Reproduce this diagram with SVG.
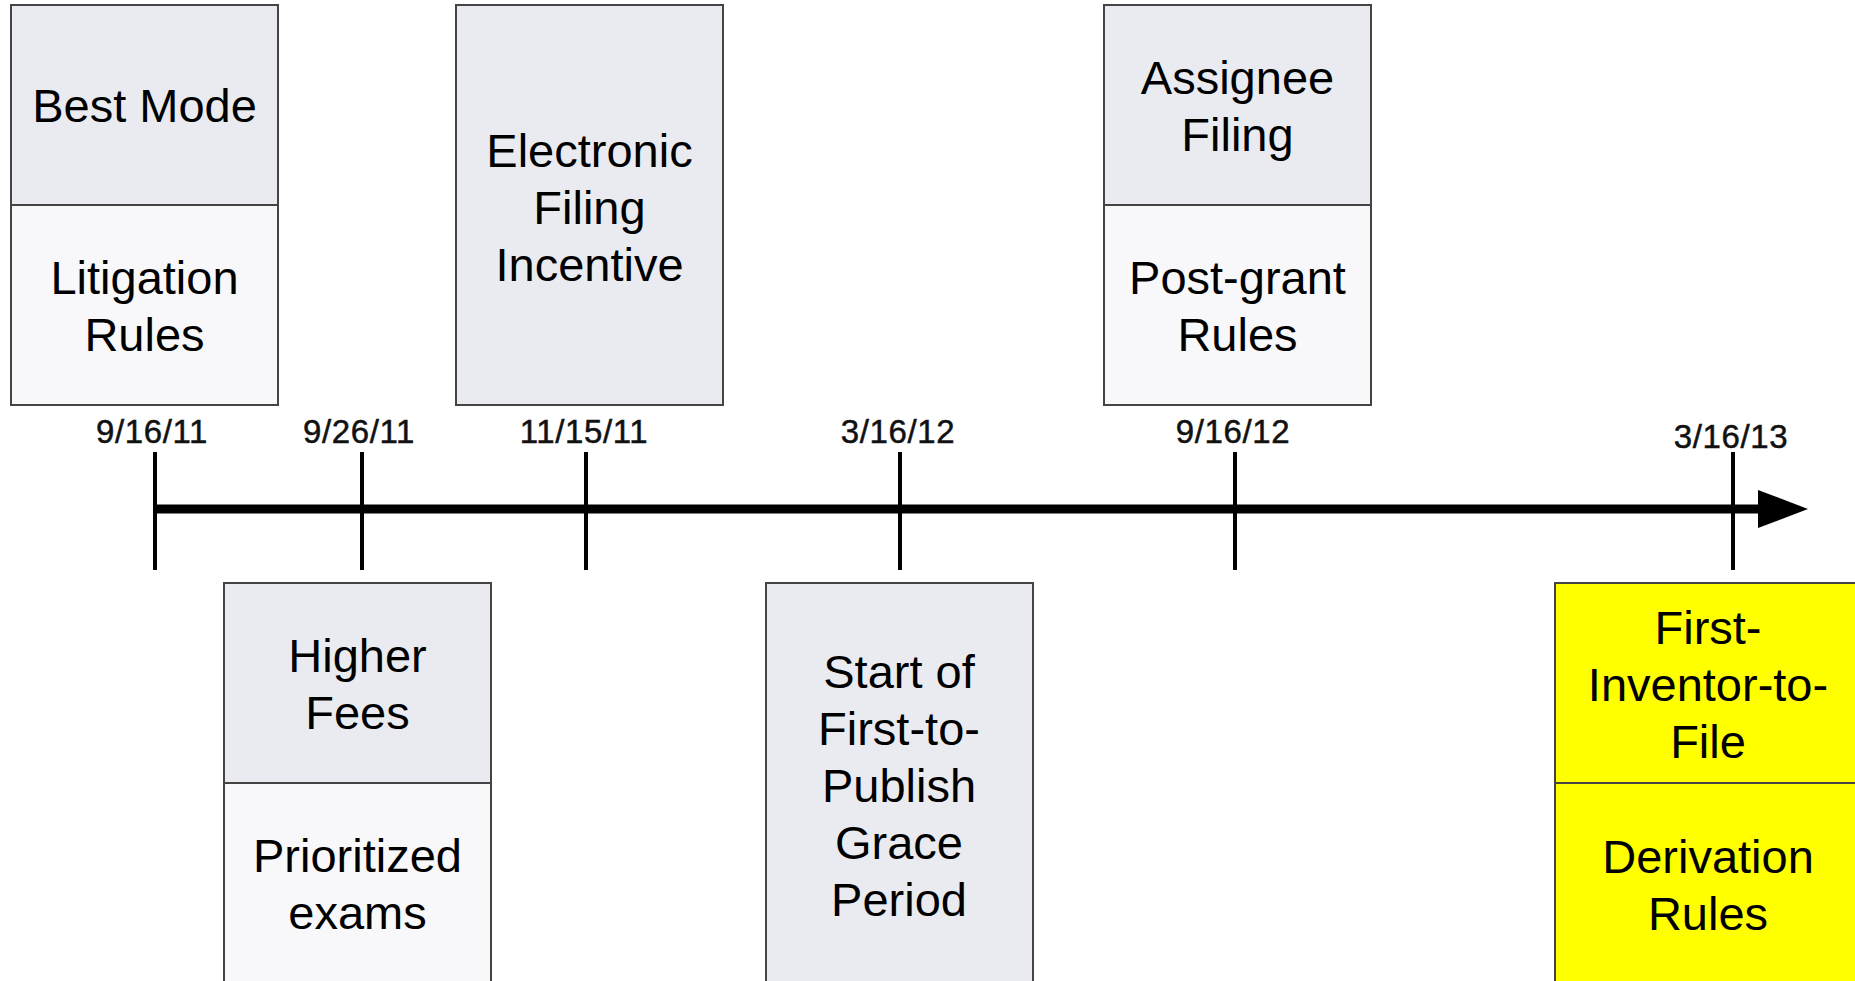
<svg xmlns="http://www.w3.org/2000/svg" width="1855" height="981" viewBox="0 0 1855 981">
<style>
.top{fill:#eaebf0;stroke:#444;stroke-width:2}
.bot{fill:#f8f8fa;stroke:#444;stroke-width:2}
.yel{fill:#ffff00;stroke:#444;stroke-width:2}
.t{font-family:"Liberation Sans",Arial,sans-serif;font-size:47px;fill:#000;text-anchor:middle}
.d{font-family:"Liberation Sans",Arial,sans-serif;font-size:33px;fill:#111;stroke:#111;stroke-width:0.5;text-anchor:middle;letter-spacing:0.6px}
.tick{stroke:#000;stroke-width:4}
</style>
<rect width="1855" height="981" fill="#fff"/>
<g id="connectors">
<line x1="155" y1="509" x2="1762" y2="509" stroke="#000" stroke-width="9"/>
<polygon points="1758,490 1808,509 1758,528" fill="#000"/>
<line class="tick" x1="155" y1="452" x2="155" y2="570"/>
<line class="tick" x1="362" y1="452" x2="362" y2="570"/>
<line class="tick" x1="586" y1="452" x2="586" y2="570"/>
<line class="tick" x1="900" y1="452" x2="900" y2="570"/>
<line class="tick" x1="1235" y1="452" x2="1235" y2="570"/>
<line class="tick" x1="1733" y1="452" x2="1733" y2="570"/>
</g>
<g id="dates">
<text class="d" x="152" y="443">9/16/11</text>
<text class="d" x="359" y="443">9/26/11</text>
<text class="d" x="584" y="443">11/15/11</text>
<text class="d" x="898" y="443">3/16/12</text>
<text class="d" x="1233" y="443">9/16/12</text>
<text class="d" x="1731" y="448">3/16/13</text>
</g>
<g id="node-best-mode">
<rect class="top" x="11" y="5" width="267" height="200"/>
<rect class="bot" x="11" y="205" width="267" height="200"/>
<text class="t" x="144.5" y="122">Best Mode</text>
<text class="t" x="144.5" y="294">Litigation</text>
<text class="t" x="144.5" y="351">Rules</text>
</g>
<g id="node-higher-fees">
<rect class="top" x="224" y="583" width="267" height="200"/>
<rect class="bot" x="224" y="783" width="267" height="210"/>
<text class="t" x="357.5" y="672">Higher</text>
<text class="t" x="357.5" y="729">Fees</text>
<text class="t" x="357.5" y="872">Prioritized</text>
<text class="t" x="357.5" y="929">exams</text>
</g>
<g id="node-electronic">
<rect class="top" x="456" y="5" width="267" height="400"/>
<text class="t" x="589.5" y="167">Electronic</text>
<text class="t" x="589.5" y="224">Filing</text>
<text class="t" x="589.5" y="281">Incentive</text>
</g>
<g id="node-first-to-publish">
<rect class="top" x="766" y="583" width="267" height="410"/>
<text class="t" x="899" y="688">Start of</text>
<text class="t" x="899" y="745">First-to-</text>
<text class="t" x="899" y="802">Publish</text>
<text class="t" x="899" y="859">Grace</text>
<text class="t" x="899" y="916">Period</text>
</g>
<g id="node-assignee">
<rect class="top" x="1104" y="5" width="267" height="200"/>
<rect class="bot" x="1104" y="205" width="267" height="200"/>
<text class="t" x="1237.5" y="94">Assignee</text>
<text class="t" x="1237.5" y="151">Filing</text>
<text class="t" x="1237.5" y="294">Post-grant</text>
<text class="t" x="1237.5" y="351">Rules</text>
</g>
<g id="node-first-inventor">
<rect class="yel" x="1555" y="583" width="320" height="200"/>
<rect class="yel" x="1555" y="783" width="320" height="210"/>
<text class="t" x="1708" y="644">First-</text>
<text class="t" x="1708" y="701">Inventor-to-</text>
<text class="t" x="1708" y="758">File</text>
<text class="t" x="1708" y="873">Derivation</text>
<text class="t" x="1708" y="930">Rules</text>
</g>
</svg>
